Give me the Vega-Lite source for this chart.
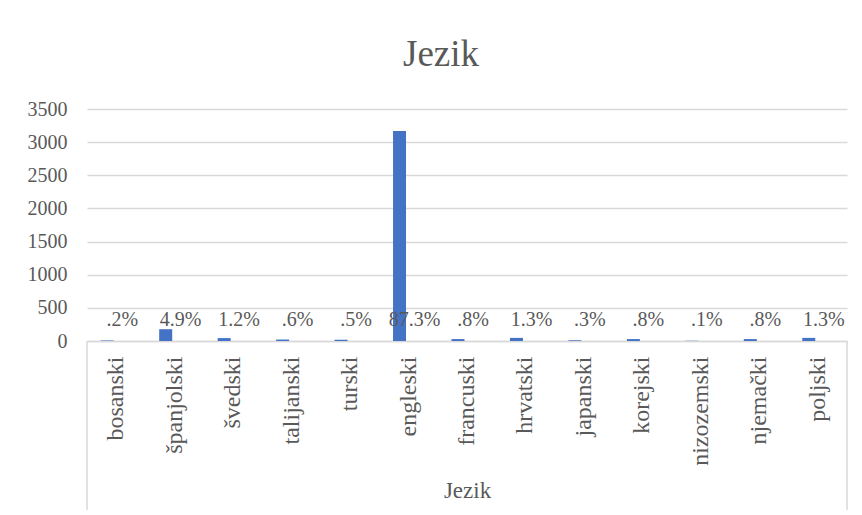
{
  "$schema": "https://vega.github.io/schema/vega-lite/v6.json",
  "autosize": {"type": "none"},
  "padding": {"left": 87, "top": 109, "right": 15, "bottom": 174},
  "width": 760,
  "height": 232,
  "background": "white",
  "title": {
    "text": "Jezik",
    "font": "Liberation Serif",
    "fontSize": 37,
    "fontWeight": "normal",
    "color": "#595959",
    "anchor": "middle",
    "frame": "group",
    "baseline": "alphabetic",
    "offset": -4,
    "dx": -26
  },
  "config": {
    "view": {"stroke": null},
    "font": "Liberation Serif",
    "axisY": {
      "labelFont": "Liberation Serif",
      "labelFontSize": 20,
      "labelColor": "#595959",
      "labelPadding": 20,
      "ticks": false,
      "domain": false,
      "gridColor": "#d9d9d9",
      "gridWidth": 1.5,
      "labelOverlap": false
    },
    "axisX": {
      "titleFont": "Liberation Serif",
      "titleFontSize": 23,
      "titleFontWeight": "normal",
      "titleColor": "#595959",
      "titlePadding": 14,
      "labelFont": "Liberation Serif",
      "labelFontSize": 24,
      "labelColor": "#595959",
      "labelAngle": -90,
      "labelPadding": 15,
      "labelLimit": 300,
      "ticks": false,
      "domainColor": "#d9d9d9",
      "domainWidth": 1.5
    }
  },
  "data": {
    "values": [
      {"jezik": "bosanski", "broj": 7, "postotak": ".2%"},
      {"jezik": "španjolski", "broj": 178, "postotak": "4.9%"},
      {"jezik": "švedski", "broj": 44, "postotak": "1.2%"},
      {"jezik": "talijanski", "broj": 22, "postotak": ".6%"},
      {"jezik": "turski", "broj": 18, "postotak": ".5%"},
      {"jezik": "engleski", "broj": 3169, "postotak": "87.3%"},
      {"jezik": "francuski", "broj": 29, "postotak": ".8%"},
      {"jezik": "hrvatski", "broj": 47, "postotak": "1.3%"},
      {"jezik": "japanski", "broj": 11, "postotak": ".3%"},
      {"jezik": "korejski", "broj": 29, "postotak": ".8%"},
      {"jezik": "nizozemski", "broj": 4, "postotak": ".1%"},
      {"jezik": "njemački", "broj": 29, "postotak": ".8%"},
      {"jezik": "poljski", "broj": 47, "postotak": "1.3%"}
    ]
  },
  "layer": [
    {
      "mark": {"type": "bar", "color": "#4472C4", "width": 13, "xOffset": -9},
      "encoding": {
        "x": {
          "field": "jezik",
          "type": "nominal",
          "sort": null,
          "scale": {"paddingInner": 0, "paddingOuter": 0},
          "axis": {"title": "Jezik"}
        },
        "y": {
          "field": "broj",
          "type": "quantitative",
          "scale": {"domain": [0, 3500], "nice": false},
          "axis": {"title": null, "values": [0, 500, 1000, 1500, 2000, 2500, 3000, 3500], "format": "d"}
        }
      }
    },
    {
      "mark": {"type": "text", "font": "Liberation Serif", "fontSize": 20, "color": "#595959", "baseline": "alphabetic", "align": "center", "dx": 6, "dy": -15},
      "encoding": {
        "x": {"field": "jezik", "type": "nominal", "sort": null, "axis": {"title": "Jezik"}},
        "y": {"datum": 0, "type": "quantitative", "axis": {"title": null, "values": [0, 500, 1000, 1500, 2000, 2500, 3000, 3500], "format": "d"}},
        "text": {"field": "postotak"}
      }
    },
    {
      "data": {"values": [{}]},
      "mark": {"type": "rule", "color": "#d9d9d9", "strokeWidth": 1.5},
      "encoding": {
        "x": {"datum": "bosanski", "bandPosition": 0, "axis": {"title": "Jezik"}},
        "y": {"datum": 0, "type": "quantitative", "axis": {"title": null, "values": [0, 500, 1000, 1500, 2000, 2500, 3000, 3500], "format": "d"}},
        "y2": {"datum": -2550}
      }
    },
    {
      "data": {"values": [{}]},
      "mark": {"type": "rule", "color": "#d9d9d9", "strokeWidth": 1.5},
      "encoding": {
        "x": {"datum": "poljski", "bandPosition": 1, "axis": {"title": "Jezik"}},
        "y": {"datum": 0, "type": "quantitative", "axis": {"title": null, "values": [0, 500, 1000, 1500, 2000, 2500, 3000, 3500], "format": "d"}},
        "y2": {"datum": -2550}
      }
    }
  ]
}
